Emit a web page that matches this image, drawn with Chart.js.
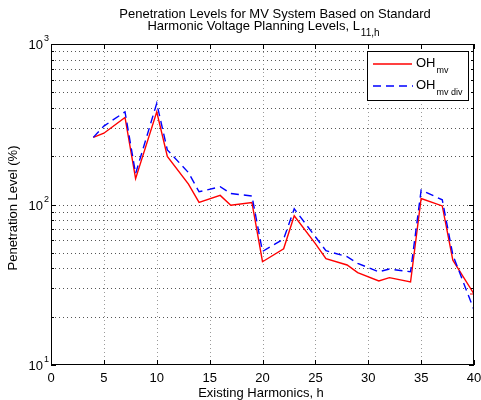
<!DOCTYPE html>
<html>
<head>
<meta charset="utf-8">
<script src="https://cdn.jsdelivr.net/npm/chart.js@4.4.1/dist/chart.umd.min.js"></script>
<style>
  html, body { margin: 0; padding: 0; background: #fff; }
  #wrap { width: 481px; height: 400px; }
</style>
</head>
<body>
<div id="wrap"><canvas id="myChart" width="481" height="400"></canvas></div>
<script>
// harmonic orders
var harmonics = [4, 5, 7, 8, 10, 11, 13, 14, 16, 17, 19, 20, 22, 23, 25, 26, 28, 29, 31, 32, 34, 35, 37, 38, 40];
// OH_mv (red, solid)
var ohMv = [262, 278, 349, 145, 378, 199, 134, 103, 114, 99, 103, 44, 53, 85, 57, 46, 42, 37.6, 33.4, 35, 32.9, 109, 98, 45, 27.7];
// OH_mv div (blue, dashed)
var ohMvDiv = [262, 308, 378, 156, 427, 219, 158, 120, 129, 117, 113, 51, 61, 94, 63, 51.5, 47.3, 43, 38.1, 39.6, 38.1, 123, 107, 48.5, 22];
var xTicks = [0, 5, 10, 15, 20, 25, 30, 35, 40];
var yDecades = [1, 2, 3];

var FONT = "'Liberation Sans', Arial, Helvetica, sans-serif";

function toPoints(xs, ys) {
    return xs.map(function (x, i) { return { x: x, y: ys[i] }; });
}

// markers: only the last red point gets a '+'
var redRadius = harmonics.map(function (h, i) { return i === harmonics.length - 1 ? 4 : 0; });

// all log-axis positions: 10,20..90,100,200..1000
function yGridValues() {
    var out = [];
    for (var d = 1; d <= 3; d++) {
        for (var m = 1; m <= 9; m++) {
            if (d === 3 && m > 1) break;
            out.push(m * Math.pow(10, d));
        }
    }
    return out;
}

// dotted matlab grid, drawn under the lines
var dottedGrid = {
    id: 'dottedGrid',
    beforeDatasetsDraw: function (chart) {
        var c = chart.ctx;
        var a = chart.chartArea;
        var xs = chart.scales.x, ys = chart.scales.y;
        c.save();
        c.lineWidth = 1;
        c.setLineDash([1, 3]);
        c.strokeStyle = '#9a9a9a';
        c.beginPath();
        xTicks.forEach(function (t) {
            if (t === 0 || t === 40) return;
            var px = Math.round(xs.getPixelForValue(t)) + 0.5;
            c.moveTo(px, a.top); c.lineTo(px, a.bottom);
        });
        c.stroke();
        c.strokeStyle = '#555';
        c.beginPath();
        yGridValues().forEach(function (v) {
            if (v === 10 || v === 1000) return;
            var py = Math.round(ys.getPixelForValue(v)) + 0.5;
            c.moveTo(a.left, py); c.lineTo(a.right, py);
        });
        c.stroke();
        c.restore();
    }
};

// draws the matlab style bits: box, inward ticks, labels, title, legend
var matlabDecor = {
    id: 'matlabDecor',
    afterDraw: function (chart) {
        var c = chart.ctx;
        var a = chart.chartArea;
        var xs = chart.scales.x, ys = chart.scales.y;
        c.save();
        c.strokeStyle = '#000';
        c.lineWidth = 1;
        c.strokeRect(a.left + 0.5, a.top + 0.5, a.right - a.left - 1, a.bottom - a.top - 1);

        c.beginPath();
        xTicks.forEach(function (t) {
            var px = Math.round(xs.getPixelForValue(t)) + 0.5;
            c.moveTo(px, a.bottom); c.lineTo(px, a.bottom - 5);
            c.moveTo(px, a.top); c.lineTo(px, a.top + 5);
        });
        yGridValues().forEach(function (v) {
            var py = Math.round(ys.getPixelForValue(v)) + 0.5;
            var len = (v === 10 || v === 100 || v === 1000) ? 5 : 3;
            c.moveTo(a.left, py); c.lineTo(a.left + len, py);
            c.moveTo(a.right, py); c.lineTo(a.right - len, py);
        });
        c.stroke();

        c.fillStyle = '#000';
        c.font = '13px ' + FONT;
        c.textAlign = 'center';
        c.textBaseline = 'alphabetic';
        xTicks.forEach(function (t) {
            c.fillText(String(t), xs.getPixelForValue(t), 382);
        });

        yDecades.forEach(function (e) {
            var py = ys.getPixelForValue(Math.pow(10, e));
            c.font = '13px ' + FONT;
            c.textAlign = 'right';
            c.fillText('10', 43, py + 5);
            c.font = '9px ' + FONT;
            c.textAlign = 'left';
            c.fillText(String(e), 44, py - 3);
        });

        c.font = '13px ' + FONT;
        c.textAlign = 'center';
        c.fillText('Existing Harmonics, h', 261, 397);

        c.save();
        c.translate(17, 208);
        c.rotate(-Math.PI / 2);
        c.fillText('Penetration Level (%)', 0, 0);
        c.restore();

        // title with subscript
        c.fillText('Penetration Levels for MV System Based on Standard', 275, 18);
        c.textAlign = 'left';
        var line2 = 'Harmonic Voltage Planning Levels, L';
        var w2 = c.measureText(line2).width;
        var sub = '11,h';
        c.font = '10px ' + FONT;
        var ws = c.measureText(sub).width;
        var x2 = 263 - (w2 + ws) / 2;
        c.font = '13px ' + FONT;
        c.fillText(line2, x2, 30);
        c.font = '10px ' + FONT;
        c.fillText(sub, x2 + w2 + 1, 36);

        // legend
        c.fillStyle = '#fff';
        c.fillRect(367, 51, 101, 49);
        c.strokeStyle = '#000';
        c.strokeRect(367.5, 51.5, 101, 49);
        c.lineWidth = 1.4;
        c.strokeStyle = '#ff0000';
        c.beginPath(); c.moveTo(373, 64); c.lineTo(412, 64); c.stroke();
        c.strokeStyle = '#0000ff';
        c.setLineDash([8, 5]);
        c.beginPath(); c.moveTo(373, 86); c.lineTo(413, 86); c.stroke();
        c.setLineDash([]);
        c.fillStyle = '#000';
        c.font = '13px ' + FONT;
        c.fillText('OH', 416, 67);
        c.fillText('OH', 416, 89);
        var wOH = c.measureText('OH').width;
        c.font = '9px ' + FONT;
        c.fillText('mv', 416 + wOH + 1, 73);
        c.fillText('mv div', 416 + wOH + 1, 95);
        c.restore();
    }
};

var ctx = document.getElementById('myChart').getContext('2d');

var myChart = new Chart(ctx, {
    type: 'line',
    data: {
        datasets: [{
            label: 'OH_mv',
            data: toPoints(harmonics, ohMv),
            borderColor: '#ff0000',
            backgroundColor: '#ff0000',
            borderWidth: 1.4,
            pointStyle: 'cross',
            pointRadius: redRadius,
            pointBorderWidth: 1.2,
            tension: 0,
            order: 1
        }, {
            label: 'OH_mv div',
            data: toPoints(harmonics, ohMvDiv),
            borderColor: '#0000ff',
            backgroundColor: '#0000ff',
            borderWidth: 1.4,
            borderDash: [8, 5],
            pointRadius: 0,
            tension: 0,
            order: 0
        }]
    },
    options: {
        responsive: false,
        animation: false,
        layout: { padding: { left: 51, right: 7, top: 44, bottom: 35 } },
        plugins: {
            legend: { display: false },
            title: { display: false },
            tooltip: { enabled: false }
        },
        scales: {
            x: {
                type: 'linear',
                min: 0,
                max: 40,
                ticks: { stepSize: 5, display: false, autoSkip: false },
                grid: { display: false, drawTicks: false },
                border: { display: false }
            },
            y: {
                type: 'logarithmic',
                min: 10,
                max: 1000,
                ticks: { display: false, autoSkip: false },
                grid: { display: false, drawTicks: false },
                border: { display: false }
            }
        }
    },
    plugins: [dottedGrid, matlabDecor]
});
</script>
</body>
</html>
